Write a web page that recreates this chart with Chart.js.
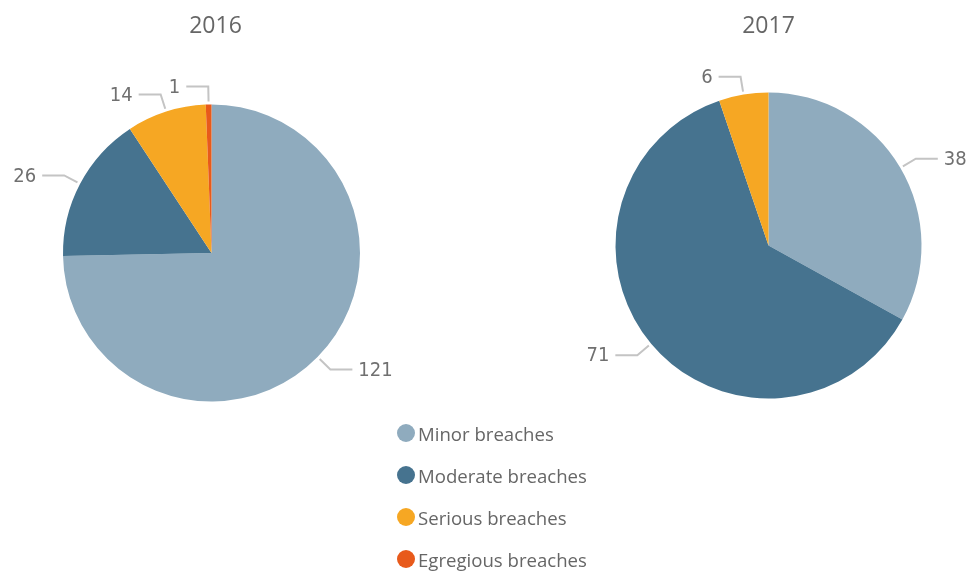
<!DOCTYPE html>
<html>
<head>
<meta charset="utf-8">
<script src="https://cdn.jsdelivr.net/npm/chart.js@4"></script>
<style>
  body { margin: 0; background: #fff; }
  #wrap { position: relative; width: 972px; height: 571px; overflow: hidden; }
  canvas { position: absolute; left: 0; top: 0; }
  #legend { position: absolute; left: 397px; top: 412px; font-family: "Open Sans", sans-serif; font-size: 18.6px; color: #666; }
  #legend div { height: 42px; display: flex; align-items: center; margin-top: 0; }
  #legend span.dot { width: 18px; height: 18px; border-radius: 50%; display: inline-block; margin-right: 3px; }
</style>
</head>
<body>
<div id="wrap">
  <canvas id="c2016" width="972" height="571"></canvas>
  <canvas id="c2017" width="972" height="571"></canvas>
  <div id="legend"></div>
</div>
<script>
// categories and values
var categories = ['Minor breaches', 'Moderate breaches', 'Serious breaches', 'Egregious breaches'];
var values2016 = [121, 26, 14, 1];
var values2017 = [38, 71, 6, 0];
var colors = ['#8fabbe', '#46738f', '#f6a723', '#e85a1b'];

// leader lines + value labels, and the year title above each pie
var leaderLabels = {
  id: 'leaderLabels',
  afterDraw: function(chart, args, opts) {
    var ctx = chart.ctx;
    var meta = chart.getDatasetMeta(0);
    var data = chart.data.datasets[0].data;
    ctx.save();
    var cx = 0, cy = 0;
    meta.data.forEach(function(arc, i) {
      cx = arc.x; cy = arc.y;
      if (!data[i]) return;
      var r = arc.outerRadius;
      var mid = (arc.startAngle + arc.endAngle) / 2;
      var dx = Math.cos(mid), dy = Math.sin(mid);
      var x0 = arc.x + dx * (r + 3), y0 = arc.y + dy * (r + 3);
      var x1 = arc.x + dx * (r + 18), y1 = arc.y + dy * (r + 18);
      var side = dx >= 0 ? 1 : -1;
      var x2 = x1 + side * 22;
      ctx.strokeStyle = '#c4c4c4';
      ctx.lineWidth = 2;
      ctx.beginPath();
      ctx.moveTo(x0, y0);
      ctx.lineTo(x1, y1);
      ctx.lineTo(x2, y1);
      ctx.stroke();
      ctx.fillStyle = '#707070';
      ctx.font = '20px "DejaVu Sans Condensed", "DejaVu Sans", sans-serif';
      ctx.textBaseline = 'middle';
      ctx.textAlign = side > 0 ? 'left' : 'right';
      ctx.fillText(String(data[i]), x2 + side * 6, y1 + 1);
    });
    ctx.fillStyle = '#666';
    ctx.font = '23px "Open Sans", sans-serif';
    ctx.textAlign = 'center';
    ctx.textBaseline = 'middle';
    ctx.fillText(opts.title, cx + opts.titleDx, 26);
    ctx.restore();
  }
};

function makePie(id, values, title, pad, titleDx) {
  return new Chart(document.getElementById(id), {
    type: 'pie',
    data: {
      labels: categories,
      datasets: [{
        data: values,
        backgroundColor: colors,
        borderWidth: 0,
        hoverOffset: 0
      }]
    },
    options: {
      responsive: false,
      animation: false,
      events: [],
      layout: { padding: pad },
      plugins: {
        legend: { display: false },
        tooltip: { enabled: false },
        leaderLabels: { title: title, titleDx: titleDx }
      }
    },
    plugins: [leaderLabels]
  });
}

makePie('c2016', values2016, '2016', { left: 63, top: 104.5, right: 612, bottom: 169.5 }, 4);
makePie('c2017', values2017, '2017', { left: 615.5, top: 92.5, right: 50.5, bottom: 172.5 }, 0);

// shared legend
var legend = document.getElementById('legend');
categories.forEach(function(name, i) {
  var row = document.createElement('div');
  var dot = document.createElement('span');
  dot.className = 'dot';
  dot.style.background = colors[i];
  row.appendChild(dot);
  row.appendChild(document.createTextNode(name));
  legend.appendChild(row);
});
</script>
</body>
</html>
